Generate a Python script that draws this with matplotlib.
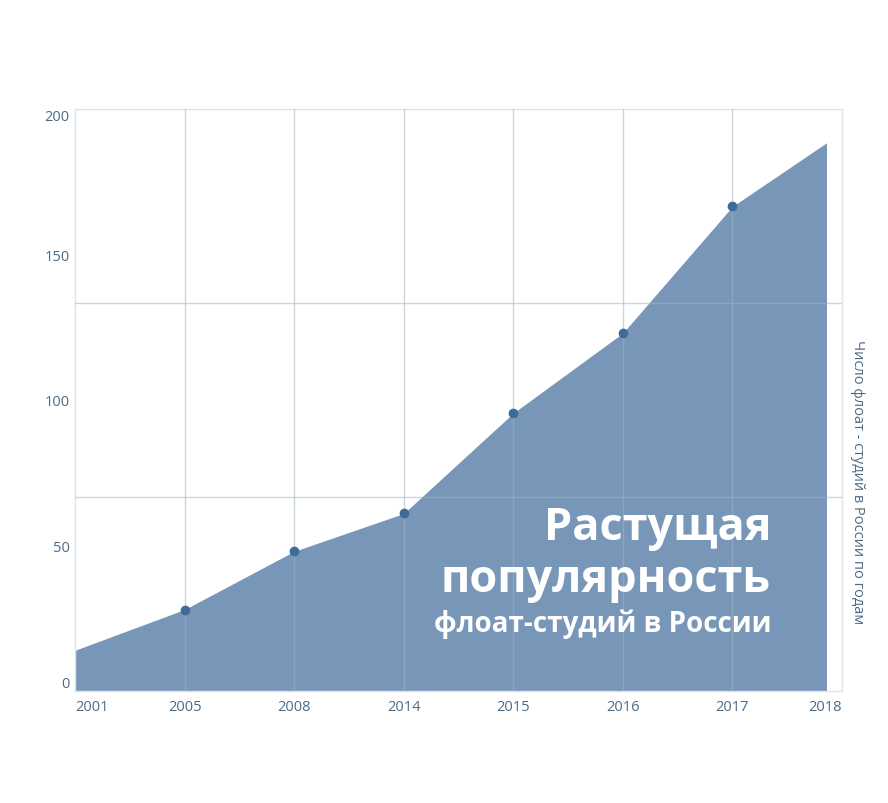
import matplotlib
matplotlib.use('Agg')
import matplotlib.pyplot as plt
import matplotlib.patches as mpatches
import numpy as np

plt.rcParams['font.family'] = ['Open Sans', 'DejaVu Sans']

# данные
years = ['2001', '2005', '2008', '2014', '2015', '2016', '2017', '2018']
studios = [14, 28, 48, 61, 95.5, 123, 166.5, 192]
y_ticks = [0, 50, 100, 150, 200]

title_lines = ['Растущая', 'популярность', 'флоат-студий в России']
side_label = 'Число флоат - студий в России по годам'

area_color = '#7896b8'
dot_color = '#3f6b97'
grid_color = '#9fb4c2'
text_color = '#4d6a85'

fig = plt.figure(figsize=(8.88, 8.04), dpi=100)
ax = fig.add_axes([75 / 888, 1 - 692 / 804, 767 / 888, 582 / 804])

x = np.arange(len(years))
area = ax.fill_between(x, 0, studios, color=area_color, linewidth=0, zorder=2)
# площадь обрезается немного раньше правого края
clip = mpatches.Rectangle((0, 0), 6.85, 200, transform=ax.transData)
area.set_clip_path(clip)
ax.plot(x[1:-1], studios[1:-1], 'o', color=dot_color, markersize=6, zorder=4)

ax.set_xlim(0, 7)
ax.set_ylim(0, 200)

# сетка
for xi in x[1:-1]:
    ax.axvline(xi, color=grid_color, linewidth=1, alpha=0.55, zorder=3)
for yi in [200 / 3, 400 / 3]:
    ax.axhline(yi, color=grid_color, linewidth=1, alpha=0.55, zorder=3)

for s in ax.spines.values():
    s.set_color('#dfe4e8')
    s.set_linewidth(1)

ax.set_xticks(x)
ax.set_xticklabels(years)
ax.set_yticks(y_ticks)
ax.set_yticklabels([str(v) for v in y_ticks])
ax.tick_params(length=0, colors=text_color, labelsize=10.5)
ax.tick_params(axis='x', pad=6)
ax.tick_params(axis='y', pad=4)
xl = ax.get_xticklabels()
xl[0].set_ha('left')
xl[-1].set_ha('right')
yl = ax.get_yticklabels()
yl[0].set_va('bottom')
yl[-1].set_va('top')

fig.text(857 / 888, 1 - 482 / 804, side_label, rotation=-90, ha='center', va='center',
         color=text_color, fontsize=10.5)

fig.text(771 / 888, 1 - 540 / 804, title_lines[0], ha='right', va='baseline',
         color='white', fontsize=32.5, fontweight='bold')
fig.text(771 / 888, 1 - 592 / 804, title_lines[1], ha='right', va='baseline',
         color='white', fontsize=32.5, fontweight='bold')
fig.text(771 / 888, 1 - 632 / 804, title_lines[2], ha='right', va='baseline',
         color='white', fontsize=20, fontweight='bold')

plt.savefig('out.png', dpi=100)
plt.close()
